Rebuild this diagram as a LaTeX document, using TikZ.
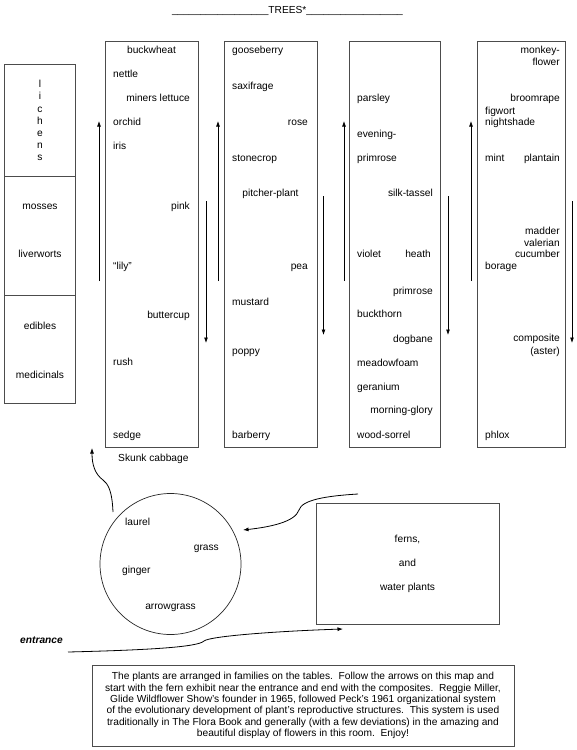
\documentclass[tikz,border=0pt]{standalone}
\usepackage{fontspec}
\setmainfont{Liberation Sans}
\usetikzlibrary{arrows.meta,positioning,calc}
\newcommand\mapfont{\fontsize{10.2}{12}\selectfont}

\begin{document}
\begin{tikzpicture}[
  x=1pt, y=-1pt,
  every node/.style={font=\mapfont, inner sep=0pt, text height=7.4pt, text depth=2.1pt},
  tablebox/.style={draw=black!70, line width=0.9pt, rectangle, text height=, text depth=},
  pondbox/.style={draw=black!85, line width=0.7pt, circle, minimum size=141pt},
  flow/.style={-{Latex[length=5.5pt,width=4pt]}, line width=0.8pt},
]
\useasboundingbox (0,0) rectangle (576,750);
\node[anchor=base, text height=, text depth=] (title) at (287.5,13)
  {\_\_\_\_\_\_\_\_\_\_\_\_\_\_\_\_\_TREES*\_\_\_\_\_\_\_\_\_\_\_\_\_\_\_\_\_};
% lichens etc.
\node[tablebox, minimum width=71pt, minimum height=112pt] (cellA) at (39.5,120) {};
\node[tablebox, minimum width=71pt, minimum height=119pt] (cellB) at (39.5,235.5) {};
\node[tablebox, minimum width=71pt, minimum height=108pt] (cellC) at (39.5,349) {};
\foreach \l [count=\i] in {l,i,c,h,e,n,s}
  \node (lich\i) at (40,{72.8+12.2*\i}) {\l};
\foreach \t/\y [count=\i] in {mosses/207, liverworts/255, edibles/327, medicinals/376}
  \node (e\i) at (40,\y) {\t};
% the four tables
\node[tablebox, minimum width=93pt, minimum height=406pt] (tbl1) at (151.5,244) {};
\node[tablebox, minimum width=93pt, minimum height=406pt] (tbl2) at (270.5,244) {};
\node[tablebox, minimum width=91pt, minimum height=406pt] (tbl3) at (394.5,244) {};
\node[tablebox, minimum width=88pt, minimum height=406pt] (tbl4) at (521,244) {};
\foreach \t/\x/\y/\a [count=\i] in {buckwheat/151.5/51/center, nettle/113/75/west,
  miners lettuce/190/99/east, orchid/113/123/west, iris/113/147/west, pink/190/207/east,
  “lily”/113/267/west, buttercup/190/316/east, rush/113/363/west, sedge/113/436/west,
  Skunk cabbage/118/459/west}
  \node[anchor=\a] (a\i) at (\x,\y) {\t};
\foreach \t/\x/\y/\a [count=\i] in {gooseberry/232/51/west, saxifrage/232/87/west,
  rose/308/123/east, stonecrop/232/159/west, pitcher-plant/270.5/194/center,
  pea/308/267/east, mustard/232/303/west, poppy/232/352/west, barberry/232/436/west}
  \node[anchor=\a] (b\i) at (\x,\y) {\t};
\foreach \t/\x/\y/\a [count=\i] in {parsley/357/99/west, evening-/357/135/west,
  primrose/357/159/west, silk-tassel/433/194/east, violet/357/255/west, heath/431/255/east,
  primrose/433/292/east, buckthorn/357/315/west, dogbane/433/340/east,
  meadowfoam/357/364/west, geranium/357/388/west, morning-glory/433/411/east,
  wood-sorrel/357/436/west}
  \node[anchor=\a] (c\i) at (\x,\y) {\t};
\foreach \t/\x/\y/\a [count=\i] in {monkey-/560/51/east, flower/560/63/east,
  broomrape/560/99/east, figwort/485/112/west, nightshade/485/123/west, mint/485/159/west,
  plantain/560/159/east, madder/560/232/east, valerian/560/243.5/east,
  cucumber/560/255/east, borage/485/267/west, composite/560/339/east,
  (aster)/560/352/east, phlox/485/436/west}
  \node[anchor=\a] (d\i) at (\x,\y) {\t};
% arrows along the tables
\foreach \x [count=\i] in {99,218,344,471} {
  \coordinate (upS\i) at (\x,281);
  \coordinate (upE\i) at (\x,121);
  \draw[flow] (upS\i) -- (upE\i);
}
\foreach \x/\a/\b [count=\i] in {206/201/343, 323.5/196/335, 448/196/335, 572/201/343} {
  \coordinate (dnS\i) at (\x,\a);
  \coordinate (dnE\i) at (\x,\b);
  \draw[flow] (dnS\i) -- (dnE\i);
}
% pond and ferns
\node[pondbox] (pond) at (170.5,564) {};
\foreach \t/\x/\y/\a [count=\i] in {laurel/125/523/west, grass/219/548/east,
  ginger/122/571/west, arrowgrass/170.5/607/center}
  \node[anchor=\a] (f\i) at (\x,\y) {\t};
\node[tablebox, minimum width=183pt, minimum height=121pt, align=center] (ferns)
  at (407.5,563.5) {ferns,\\[12pt] and\\[12pt] water plants};
\node[font={\mapfont\bfseries\itshape}] (entrance) at (41.5,641) {entrance};
\coordinate (pondout) at (113,512);
\coordinate (skunkin) at (92,448);
\coordinate (fernsout) at (358,494);
\coordinate (pondin) at (243,530);
\coordinate (doorway) at (68,652);
\coordinate (fernsin) at (343,629);
\draw[flow] (pondout) .. controls (112,490) and (108,484) .. (103,480)
  .. controls (95,474) and (92,465) .. (skunkin);
\draw[flow] (fernsout) .. controls (325,496) and (302,500) .. (299,510)
  .. controls (295,522) and (270,527) .. (pondin);
\draw[flow] (doorway) .. controls (150,650) and (198,647) .. (204,641)
  .. controls (210,636) and (280,631) .. (fernsin);
% note
\node[tablebox, minimum width=422pt, minimum height=81pt, align=center,
  font=\fontsize{10.2}{11.4}\selectfont] (note) at (303,705.5)
  {The plants are arranged in families on the tables.\ \ Follow the arrows on this map and\\
   start with the fern exhibit near the entrance and end with the composites.\ \ Reggie Miller,\\
   Glide Wildflower Show's founder in 1965, followed Peck's 1961 organizational system\\
   of the evolutionary development of plant's reproductive structures.\ \ This system is used\\
   traditionally in The Flora Book and generally (with a few deviations) in the amazing and\\
   beautiful display of flowers in this room.\ \ Enjoy!};
\end{tikzpicture}
\end{document}
